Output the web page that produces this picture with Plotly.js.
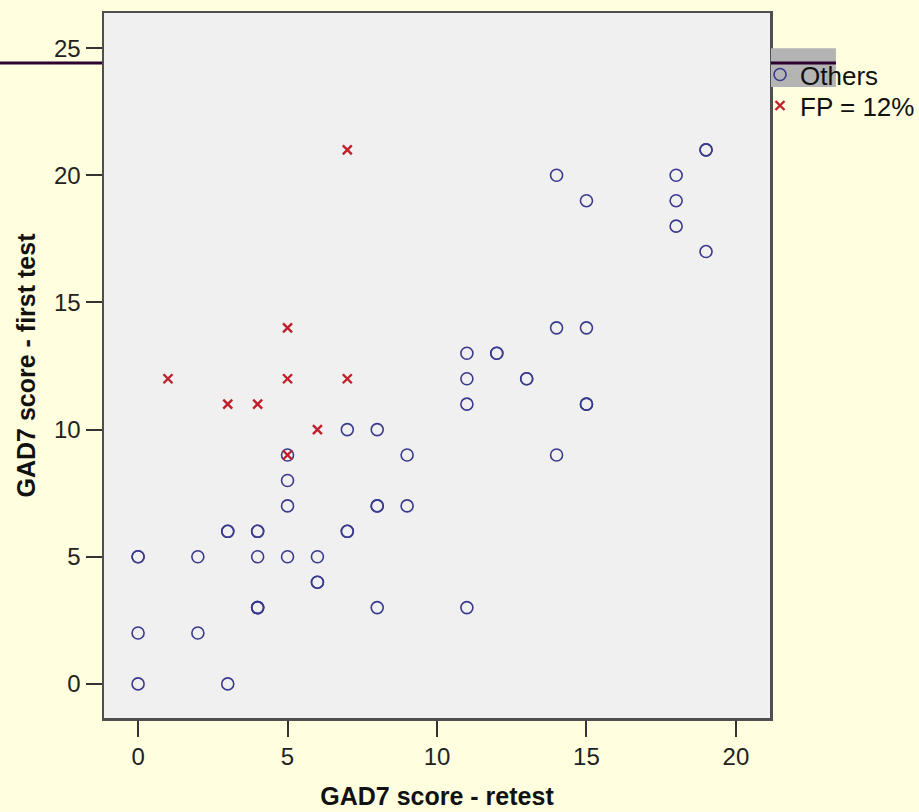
<!DOCTYPE html>
<html>
<head>
<meta charset="utf-8">
<script src="https://cdn.plot.ly/plotly-3.0.1.min.js"></script>
<style>
  html, body { margin: 0; padding: 0; background: #ffffe0; overflow: hidden; }
  #chart { width: 919px; height: 812px; }
</style>
</head>
<body>
<div id="chart"></div>
<script>
// GAD7 scores: retest (x) against first test (y)
const othersRetest = [0, 0, 0, 0, 2, 2, 3, 3, 3, 4, 4, 4, 4, 4, 4, 5, 5, 5, 5, 6, 6, 6, 7, 7, 7,
                      8, 8, 8, 8, 9, 9, 11, 11, 11, 11, 12, 12, 13, 13, 14, 14, 14,
                      15, 15, 15, 15, 18, 18, 18, 19, 19, 19];
const othersFirst  = [5, 5, 2, 0, 5, 2, 6, 6, 0, 6, 6, 5, 3, 3, 3, 9, 8, 7, 5, 5, 4, 4, 10, 6, 6,
                      10, 7, 7, 3, 9, 7, 13, 12, 11, 3, 13, 13, 12, 12, 20, 14, 9,
                      19, 14, 11, 11, 20, 19, 18, 21, 21, 17];

const fpRetest = [1, 3, 4, 5, 5, 5, 6, 7, 7];
const fpFirst  = [12, 11, 11, 14, 12, 9, 10, 21, 12];

const seriesNames = ["Others", "FP = 12%"];
const tickValues = [0, 5, 10, 15, 20, 25];
const xTitle = "GAD7 score - retest";
const yTitle = "GAD7 score - first test";

const font = "Liberation Sans, Arial, sans-serif";

const traces = [
  {
    type: "scatter", mode: "markers", name: seriesNames[0], legend: "legend",
    x: othersRetest, y: othersFirst,
    marker: { symbol: "circle-open", size: 12, color: "#3a3a8e", line: { width: 1.6, color: "#3a3a8e" } },
    hoverinfo: "x+y"
  },
  {
    type: "scatter", mode: "markers", name: seriesNames[1], legend: "legend2",
    x: fpRetest, y: fpFirst,
    marker: { symbol: "x-thin-open", size: 9, color: "#c0202c", line: { width: 2.4, color: "#c0202c" } },
    hoverinfo: "x+y"
  }
];

const axisCommon = {
  showgrid: false, zeroline: false, automargin: false,
  showline: true, mirror: true, linecolor: "#4f4f4f", linewidth: 2.5,
  ticks: "outside", ticklen: 16, tickwidth: 2, tickcolor: "#333333",
  tickfont: { family: font, size: 24, color: "#222222" },
  tickvals: tickValues, ticktext: tickValues.map(String),
  fixedrange: true
};

const legendCommon = {
  x: 0.985, xanchor: "left", yanchor: "top",
  bgcolor: "rgba(0,0,0,0)", borderwidth: 0,
  font: { family: font, size: 26, color: "#111111" },
  tracegroupgap: 0, itemwidth: 30
};

const layout = {
  width: 919, height: 812,
  margin: { l: 104, r: 149, t: 13, b: 94, autoexpand: false },
  paper_bgcolor: "#ffffe0",
  plot_bgcolor: "#f0f0f0",
  showlegend: true,
  legend: Object.assign({}, legendCommon, { y: 0.946 }),
  legend2: Object.assign({}, legendCommon, { y: 0.902 }),
  xaxis: Object.assign({}, axisCommon, {
    range: [-1.14, 21.14],
    title: { text: xTitle, standoff: 18, font: { family: font, size: 25, color: "#111111", weight: "bold" } }
  }),
  yaxis: Object.assign({}, axisCommon, {
    range: [-1.34, 26.38],
    title: { text: yTitle, standoff: 11, font: { family: font, size: 25, color: "#111111", weight: "bold" } }
  }),
  shapes: [
    // dark rule running left of the frame
    { type: "line", xref: "paper", yref: "paper", x0: -0.16, x1: -0.003, y0: 0.929, y1: 0.929,
      line: { color: "#2d0030", width: 3 } },
    // grey patch behind the first legend entry
    { type: "rect", xref: "paper", yref: "paper", x0: 1.0015, x1: 1.099, y0: 0.895, y1: 0.950,
      fillcolor: "#b4b4b4", line: { width: 0 } },
    { type: "line", xref: "paper", yref: "paper", x0: 1.0015, x1: 1.099, y0: 0.929, y1: 0.929,
      line: { color: "#2d0030", width: 3 } }
  ]
};

Plotly.newPlot("chart", traces, layout, { displayModeBar: false, staticPlot: true });
</script>
</body>
</html>
